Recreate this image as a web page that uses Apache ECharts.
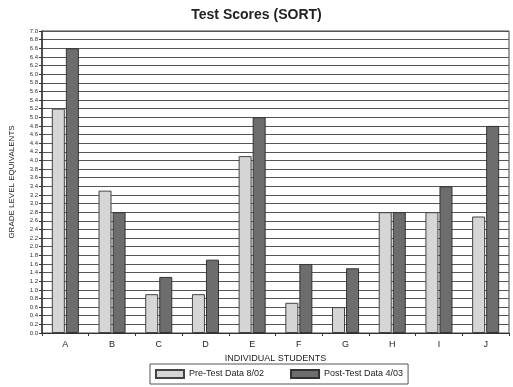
<!DOCTYPE html>
<html><head><meta charset="utf-8">
<script src="https://cdn.jsdelivr.net/npm/echarts@6/dist/echarts.min.js"></script>
<style>html,body{margin:0;padding:0;background:#fff}#c{width:513px;height:387px}</style>
</head><body><div id="c"></div>
<script>
const categories = ['A','B','C','D','E','F','G','H','I','J'];
const preTest = [5.2, 3.3, 0.9, 0.9, 4.1, 0.7, 0.6, 2.8, 2.8, 2.7];
const postTest = [6.6, 2.8, 1.3, 1.7, 5.0, 1.6, 1.5, 2.8, 3.4, 4.8];
const seriesNames = ['Pre-Test Data 8/02', 'Post-Test Data 4/03'];
const chart = echarts.init(document.getElementById('c'));
const font = 'Liberation Sans, Arial, sans-serif';
chart.setOption({
  animation: false,
  backgroundColor: '#fff',
  title: {text: 'Test Scores (SORT)', left: 'center', top: 3,
    textStyle: {fontFamily: font, fontSize: 14, fontWeight: 'bold', color: '#222'}},
  legend: {
    left: 150, top: 364,
    data: seriesNames.map(n => ({name: n, icon: 'rect'})),
    itemWidth: 28, itemHeight: 8, itemGap: 26,
    borderColor: '#555', borderWidth: 1, padding: [5, 5, 5, 5],
    textStyle: {fontFamily: font, fontSize: 9, color: '#222'}
  },
  grid: {left: 41, right: 4, top: 31, bottom: 54, show: true, borderColor: '#444', borderWidth: 1},
  xAxis: {
    type: 'category', data: categories,
    name: 'INDIVIDUAL STUDENTS', nameLocation: 'middle', nameGap: 17,
    nameTextStyle: {fontFamily: font, fontSize: 9, color: '#222'},
    axisLine: {lineStyle: {color: '#333', width: 1}},
    axisTick: {show: true, length: 3, lineStyle: {color: '#333'}},
    axisLabel: {fontFamily: font, fontSize: 9, color: '#222', margin: 7}
  },
  yAxis: {
    type: 'value', min: 0, max: 7, interval: 0.2,
    name: 'GRADE LEVEL EQUIVALENTS', nameLocation: 'middle', nameGap: 26,
    nameTextStyle: {fontFamily: font, fontSize: 8, color: '#222'},
    axisLine: {show: true, lineStyle: {color: '#333', width: 1.5}},
    axisTick: {show: true, length: 3, lineStyle: {color: '#333'}},
    axisLabel: {fontFamily: font, fontSize: 6, color: '#333', margin: 4,
      formatter: v => v.toFixed(1)},
    splitLine: {show: true, lineStyle: {color: '#555', width: 1.2}}
  },
  series: [
    {name: seriesNames[0], type: 'bar', data: preTest, barWidth: 13, barGap: '8%',
     itemStyle: {color: '#d6d6d6', borderColor: '#444', borderWidth: 1}},
    {name: seriesNames[1], type: 'bar', data: postTest, barWidth: 13,
     itemStyle: {color: '#6d6d6d', borderColor: '#333', borderWidth: 1}}
  ]
});
</script></body></html>
